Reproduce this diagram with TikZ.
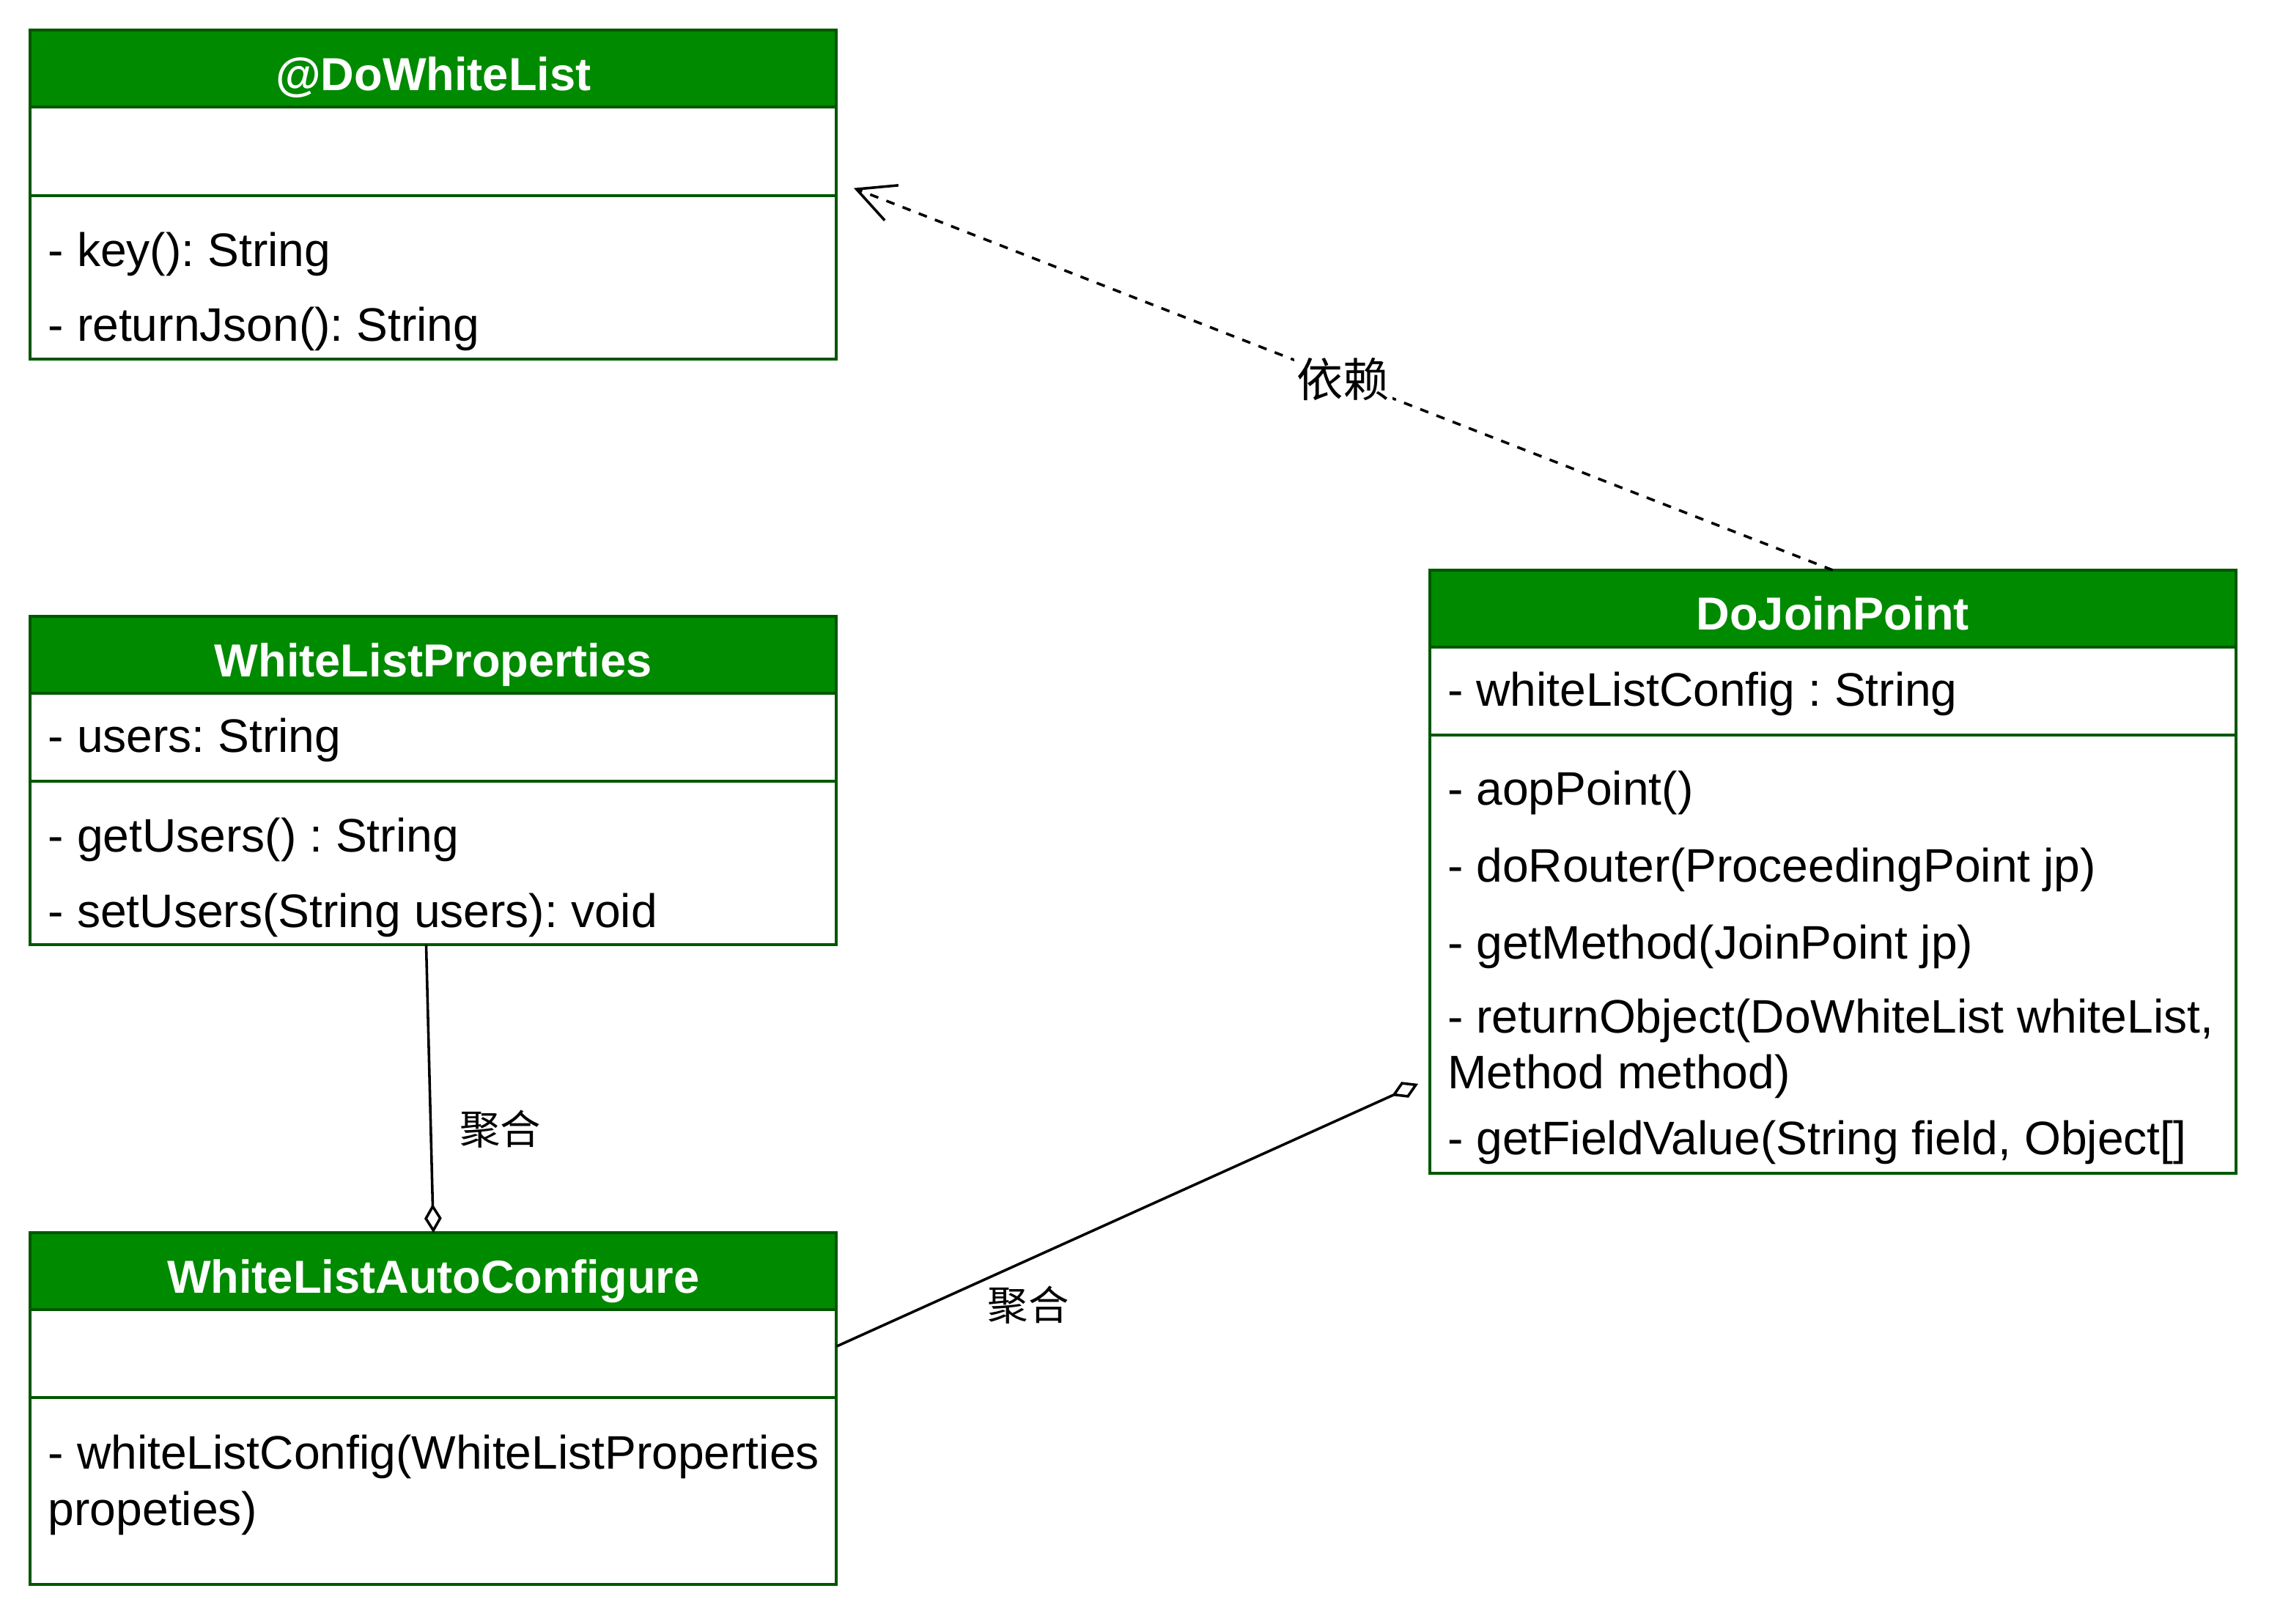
\documentclass[tikz,border=0pt]{standalone}
\usepackage{fontspec}
\setmainfont{Liberation Sans}
\newfontfamily\cjk{Noto Sans CJK SC}
\usepackage{tikz}
\usetikzlibrary{arrows.meta,positioning}
\definecolor{umlfill}{HTML}{008A00}
\definecolor{umlline}{HTML}{005700}
\frenchspacing

\begin{document}
\begin{tikzpicture}[x=0.5pt, y=-0.5pt, font=\fontsize{16.25}{19}\selectfont,
    head/.style = {draw=umlline, line width=1pt, fill=umlfill, text=white, font=\fontsize{16}{19}\selectfont\bfseries,
                   minimum width=278.5pt, minimum height=26.5pt, inner sep=0pt, outer sep=0pt, text height=15pt, text depth=0pt, anchor=north west},
    part/.style = {draw=umlline, line width=1pt, fill=white, minimum width=278.5pt, inner sep=0pt, outer sep=0pt},
    row/.style = {anchor=base west, inner sep=0pt},
    lbl/.style = {font=\cjk\fontsize{14}{17}\selectfont, inner sep=1pt},
    dep/.style = {dash pattern=on 3pt off 3pt, line width=0.9pt, -{Straight Barb[length=13pt, width=13pt]}},
    agg/.style = {line width=0.9pt, -{Diamond[open, length=10pt, width=6pt]}}]
    \useasboundingbox (0,0) rectangle (1568,1122);

    % @DoWhiteList
    \node[head] (dwl) at (21,21) {@DoWhiteList};
    \node[part, minimum height=30.5pt, below=0pt of dwl] (dwl-a) {};
    \node[part, minimum height=56.5pt, below=0pt of dwl-a] (dwl-m) {};
    \node[row] (dwl-m1) at ([shift={(6pt,-24.5pt)}]dwl-m.north west) {- key(): String};
    \node[row] (dwl-m2) at ([yshift=-26pt]dwl-m1.base west) {- returnJson(): String};

    % WhiteListProperties
    \node[head] (wlp) at (21,426) {WhiteListProperties};
    \node[part, minimum height=30.5pt, below=0pt of wlp] (wlp-a) {};
    \node[part, minimum height=56.5pt, below=0pt of wlp-a] (wlp-m) {};
    \node[row] (wlp-a1) at ([shift={(6pt,-20.5pt)}]wlp-a.north west) {- users: String};
    \node[row] (wlp-m1) at ([shift={(6pt,-24.5pt)}]wlp-m.north west) {- getUsers() : String};
    \node[row] (wlp-m2) at ([yshift=-26pt]wlp-m1.base west) {- setUsers(String users): void};

    % WhiteListAutoConfigure
    \node[head] (wlac) at (21,852) {WhiteListAutoConfigure};
    \node[part, minimum height=30.5pt, below=0pt of wlac] (wlac-a) {};
    \node[part, minimum height=64.5pt, below=0pt of wlac-a] (wlac-m) {};
    \node[row] (wlac-m1) at ([shift={(6pt,-24.5pt)}]wlac-m.north west) {- whiteListConfig(WhiteListProperties};
    \node[row] (wlac-m1b) at ([yshift=-19.5pt]wlac-m1.base west) {propeties)};

    % DoJoinPoint
    \node[head] (djp) at (988,394) {DoJoinPoint};
    \node[part, minimum height=30.5pt, below=0pt of djp] (djp-a) {};
    \node[part, minimum height=151.5pt, below=0pt of djp-a] (djp-m) {};
    \node[row] (djp-a1) at ([shift={(6pt,-20.5pt)}]djp-a.north west) {- whiteListConfig : String};
    \node[row] (djp-m1) at ([shift={(6pt,-24.25pt)}]djp-m.north west) {- aopPoint()};
    \node[row] (djp-m2) at ([yshift=-26.5pt]djp-m1.base west) {- doRouter(ProceedingPoint jp)};
    \node[row] (djp-m3) at ([yshift=-26.5pt]djp-m2.base west) {- getMethod(JoinPoint jp)};
    \node[row] (djp-m4) at ([yshift=-25.75pt]djp-m3.base west) {- returnObject(DoWhiteList whiteList,};
    \node[row] (djp-m4b) at ([yshift=-19.25pt]djp-m4.base west) {Method method)};
    \node[row] (djp-m5) at ([yshift=-22.75pt]djp-m4b.base west) {- getFieldValue(String field, Object[]};

    % dependency
    \coordinate (dep-end) at (590,130);
    \draw[dep] (djp.north) -- node[lbl, pos=0.5, fill=white, font=\cjk\fontsize{16}{19}\selectfont] (dep-lbl) {依赖} (dep-end);

    % aggregations
    \draw[agg] ([xshift=-2.5pt]wlp-m.south) -- node[lbl, pos=0.64, xshift=24pt] (agg1-lbl) {聚合} (wlac.north);
    \coordinate (agg2-end) at (980,749);
    \draw[agg] ([yshift=2.5pt]wlac-a.east) -- node[lbl, pos=0.33, yshift=-15.5pt] (agg2-lbl) {聚合} (agg2-end);
\end{tikzpicture}
\end{document}
